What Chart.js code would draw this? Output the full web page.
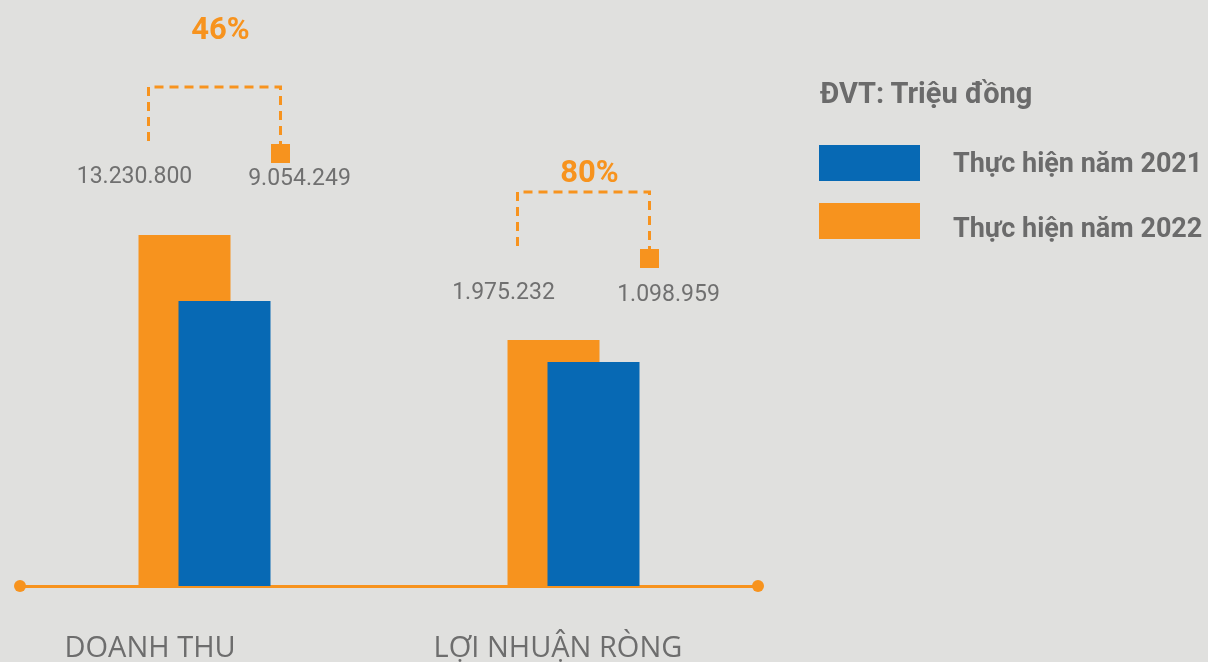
<!DOCTYPE html>
<html lang="vi">
<head>
<meta charset="utf-8">
<script src="https://cdn.jsdelivr.net/npm/chart.js@4.4.1/dist/chart.umd.min.js"></script>
<style>
  html, body { margin: 0; padding: 0; background: #e0e0de; width: 1208px; height: 662px; overflow: hidden; }
  #wrap { position: relative; width: 1208px; height: 662px; }
  #chart { position: absolute; left: 0; top: 0; }
  .lg-title { position: absolute; left: 820px; top: 79px; font: 700 29px Roboto, sans-serif; line-height: 1; color: #6b6b6b; white-space: nowrap; }
  .lg-swatch { position: absolute; left: 819px; width: 101px; height: 36px; }
  .lg-text { position: absolute; left: 953px; font: 700 27px Roboto, sans-serif; line-height: 1; color: #6b6b6b; white-space: nowrap; }
</style>
</head>
<body>
<div id="wrap">
  <canvas id="chart" width="1208" height="662"></canvas>
  <div id="legend"></div>
</div>
<script>
// ---- data ----
const categories = ['DOANH THU', 'LỢI NHUẬN RÒNG'];
const seriesNames = ['Thực hiện năm 2021', 'Thực hiện năm 2022'];
const values2021 = [9054249, 1098959];     // Triệu đồng (labels)
const values2022 = [13230800, 1975232];    // Triệu đồng (labels)
const growthPct = [46, 80];
// bar heights as drawn in the infographic (illustrative 0–100 scale, not proportional to values)
const barLevel2021 = [57.0, 44.8];
const barLevel2022 = [70.2, 49.2];
const unitNote = 'ĐVT: Triệu đồng';

const COLORS = { blue: '#0769b4', orange: '#f7931e', text: '#707070', axisText: '#6d6d6d' };

function fmt(n) { return String(n).replace(/\B(?=(\d{3})+(?!\d))/g, '.'); }

// HTML legend
(function buildLegend() {
  const lg = document.getElementById('legend');
  const t = document.createElement('div');
  t.className = 'lg-title'; t.textContent = unitNote; lg.appendChild(t);
  const colors = [COLORS.blue, COLORS.orange];
  const swTop = [145, 203], txTop = [149.5, 214.5];
  seriesNames.forEach((name, i) => {
    const s = document.createElement('div');
    s.className = 'lg-swatch'; s.style.top = swTop[i] + 'px'; s.style.background = colors[i];
    lg.appendChild(s);
    const tx = document.createElement('div');
    tx.className = 'lg-text'; tx.style.top = txTop[i] + 'px'; tx.textContent = name;
    lg.appendChild(tx);
  });
})();

const annotPlugin = {
  id: 'annot',
  afterDatasetsDraw(chart) {
    const ctx = chart.ctx;
    const blue = chart.getDatasetMeta(1).data;
    const orange = chart.getDatasetMeta(2).data;
    const pctGap = [48, 10];
    const labelDrop = [96, 107];
    categories.forEach((c, i) => {
      const o = orange[i], b = blue[i];
      const bracketY = o.y - 148;
      const leftX = o.x - o.width / 2 + 10;
      const rightX = b.x + b.width / 2 + 10;
      ctx.save();
      ctx.strokeStyle = COLORS.orange;
      ctx.lineWidth = 3;
      ctx.setLineDash([9, 6]);
      ctx.beginPath();
      ctx.moveTo(leftX, bracketY + 54);
      ctx.lineTo(leftX, bracketY);
      ctx.lineTo(rightX, bracketY);
      ctx.lineTo(rightX, bracketY + 57);
      ctx.stroke();
      ctx.setLineDash([]);
      ctx.fillStyle = COLORS.orange;
      ctx.fillRect(rightX - 9.5, bracketY + 57, 19, 19);
      ctx.textAlign = 'center';
      ctx.textBaseline = 'alphabetic';
      ctx.font = '700 31px Roboto, sans-serif';
      ctx.fillText(growthPct[i] + '%', (leftX + rightX) / 2 + 6, bracketY - pctGap[i]);
      ctx.font = '400 23px Roboto, sans-serif';
      ctx.fillStyle = COLORS.text;
      ctx.fillText(fmt(values2022[i]), leftX - 14, bracketY + labelDrop[i]);
      ctx.fillText(fmt(values2021[i]), rightX + 19, bracketY + labelDrop[i] + 2);
      ctx.restore();
    });
  },
  afterDraw(chart) {
    const ctx = chart.ctx, a = chart.chartArea;
    ctx.save();
    ctx.fillStyle = COLORS.orange;
    [a.left, a.right].forEach(x => {
      ctx.beginPath(); ctx.arc(x, a.bottom, 6, 0, Math.PI * 2); ctx.fill();
    });
    ctx.restore();
  }
};

function draw() {
  new Chart(document.getElementById('chart'), {
    type: 'bar',
    data: {
      labels: categories,
      datasets: [
        // empty placeholder so the 2022 slot sits on the left while 2021 is painted on top
        { label: '', data: categories.map(() => null), stack: 's2022', backgroundColor: 'rgba(0,0,0,0)' },
        { label: seriesNames[0], data: barLevel2021, stack: 's2021', backgroundColor: COLORS.blue },
        { label: seriesNames[1], data: barLevel2022, stack: 's2022', backgroundColor: COLORS.orange }
      ]
    },
    options: {
      responsive: false,
      animation: false,
      layout: { padding: { top: 86, left: 20, right: 450, bottom: 0 } },
      datasets: { bar: { categoryPercentage: 0.2168, barPercentage: 2.3 } },
      plugins: { legend: { display: false }, tooltip: { enabled: false } },
      scales: {
        x: {
          offset: true,
          grid: { display: false, drawTicks: false },
          border: { display: true, color: COLORS.orange, width: 3 },
          ticks: { font: { family: 'Open Sans', size: 29 }, color: COLORS.axisText, padding: 45, align: 'start', labelOffset: -140, maxRotation: 0, autoSkip: false },
          afterFit(s) { s.height = 76; }
        },
        y: { display: false, min: 0, max: 100, stacked: false }
      }
    },
    plugins: [annotPlugin]
  });
}

const fontLoads = ['700 31px Roboto', '400 23px Roboto', '29px "Open Sans"'].map(f => document.fonts.load(f).catch(() => null));
Promise.all(fontLoads).then(draw, draw);
</script>
</body>
</html>
